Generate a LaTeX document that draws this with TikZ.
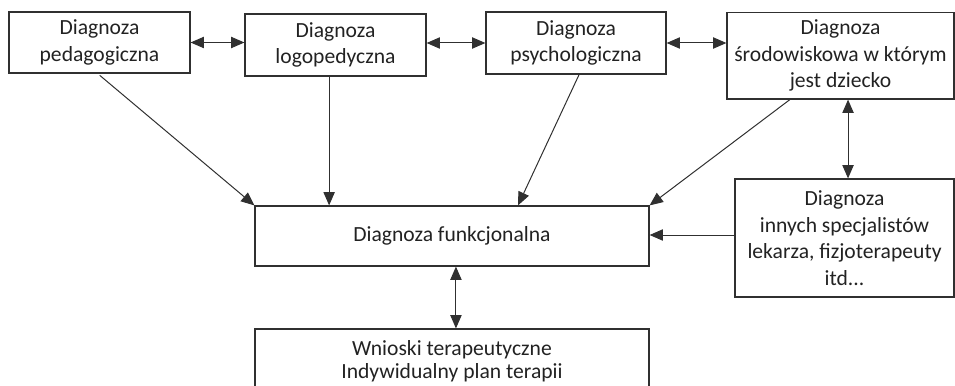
\documentclass[tikz,border=0pt]{standalone}
\usepackage{fontspec}
\setmainfont{Carlito}
\usetikzlibrary{arrows.meta,calc}
\definecolor{ln}{HTML}{303030}
\definecolor{tx}{HTML}{222222}
\begin{document}
\begin{tikzpicture}[x=0.75pt,y=-0.75pt,
  box/.style={draw=ln,line width=0.9pt,inner sep=0pt,align=center,text=tx,
    font=\fontsize{16.2pt}{20pt}\selectfont},
  arr/.style={draw=ln,line width=0.75pt,-{Triangle[length=10pt,width=8.5pt]}},
  darr/.style={draw=ln,line width=0.75pt,{Triangle[length=10pt,width=8.5pt]}-{Triangle[length=10pt,width=8.5pt]}}]
\useasboundingbox (0,0) rectangle (955,385);
\clip (0,0) rectangle (955,385);
\node[box,minimum width=135.75pt,minimum height=45.75pt] (b1) at (99.5,42.5) {Diagnoza\\pedagogiczna};
\node[box,minimum width=135.75pt,minimum height=46.5pt] (b2) at (335.5,45) {Diagnoza\\logopedyczna};
\node[box,minimum width=135pt,minimum height=46.5pt] (b3) at (576,43) {Diagnoza\\psychologiczna};
\node[box,minimum width=170.25pt,minimum height=64.9pt] (b4) at (840.5,55.75) {Diagnoza\\środowiskowa w którym\\jest dziecko};
\node[box,minimum width=164.25pt,minimum height=88.5pt] (b5) at (844.5,238) {Diagnoza\\innych specjalistów\\lekarza, fizjoterapeuty\\itd...};
\node[box,minimum width=295.5pt,minimum height=45pt] (b6) at (452,236) {Diagnoza funkcjonalna};
\node[box,minimum width=295.5pt,minimum height=48pt,
  font=\fontsize{16.2pt}{17pt}\selectfont] (b7) at (452,361) {Wnioski terapeutyczne\\Indywidualny plan terapii};
% horizontal double arrows
\draw[darr] (b1.east) -- (b1.east -| b2.west);
\draw[darr] (b3.west -| b2.east) -- (b3.west);
\draw[darr] (b3.east) -- (b3.east -| b4.west);
% vertical double arrows
\coordinate (c45) at ($(b5.north west)!.516!(b5.north east)$);
\draw[darr] (c45 |- b4.south) -- (c45);
\coordinate (c67) at ($(b7.north west)!.51!(b7.north east)$);
\draw[darr] (c67 |- b6.south) -- (c67);
% arrows into functional diagnosis
\coordinate (s1) at ($(b1.south west)!.49!(b1.south east)$);
\draw[arr,shorten <=2pt] (s1) -- (b6.north west);
\coordinate (s2) at ($(b2.south west)!.465!(b2.south east)$);
\draw[arr] (s2) -- (s2 |- b6.north);
\coordinate (s3) at ($(b3.south west)!.517!(b3.south east)$);
\coordinate (e3) at ($(b6.north west)!.667!(b6.north east)$);
\draw[arr] (s3) -- (e3);
\coordinate (s4) at ($(b4.south west)!.278!(b4.south east)$);
\draw[arr] (s4) -- (b6.north east);
\coordinate (s5) at ($(b5.west)+(0,-3)$);
\draw[arr] (s5) -- (s5 -| b6.east);
\end{tikzpicture}
\end{document}
